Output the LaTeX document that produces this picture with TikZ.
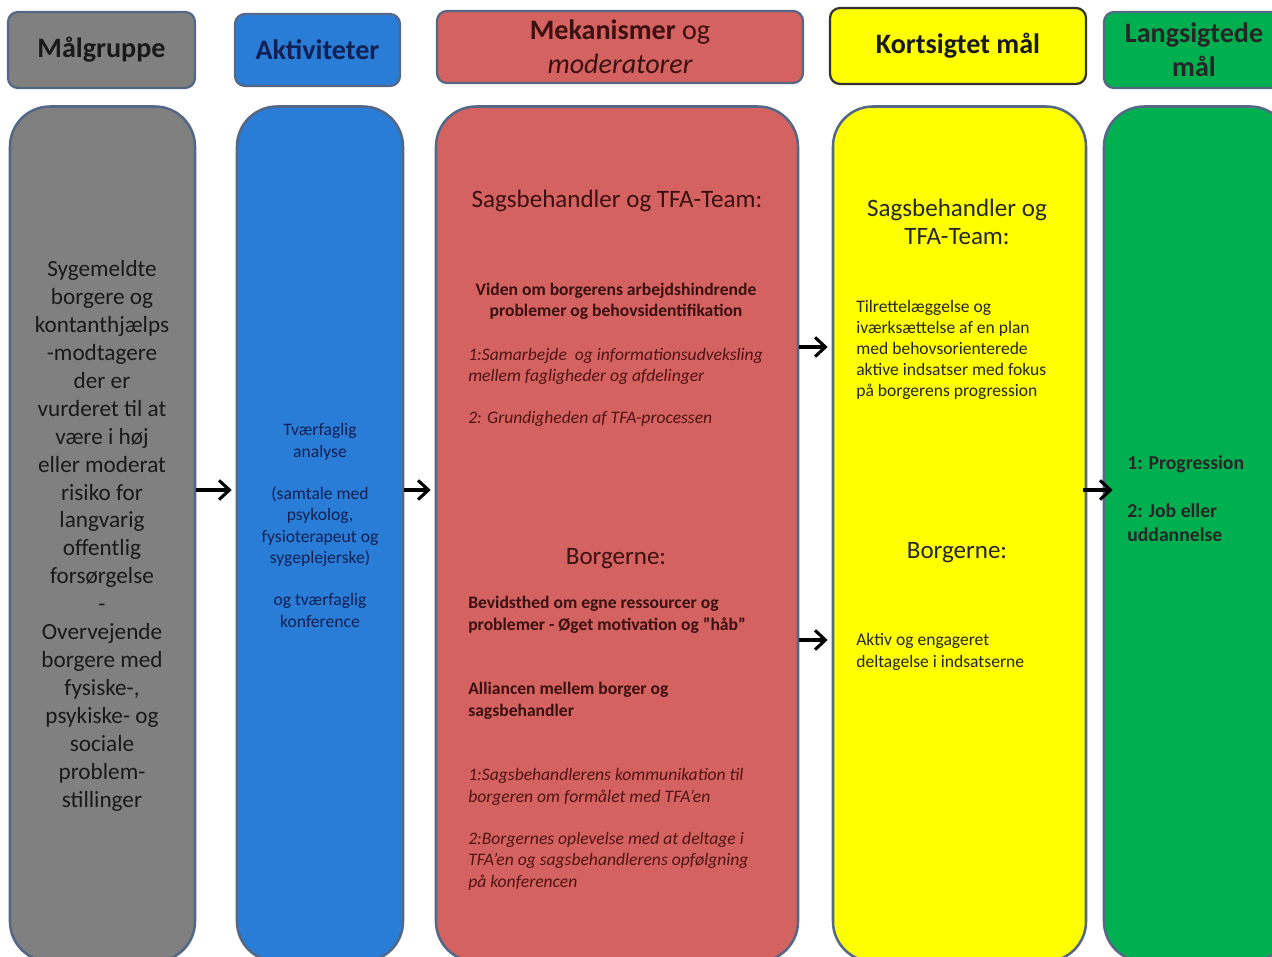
\documentclass[tikz,border=0pt]{standalone}
\usepackage{fontspec}
\setmainfont{Carlito}
\usetikzlibrary{arrows.meta}
\newcommand\pxu{0.25mm}
\newcommand\notefont{\fontsize{12.5}{15.1}\selectfont}
\definecolor{cgray}{RGB}{128,128,128}
\definecolor{cblue}{RGB}{42,125,215}
\definecolor{cred}{RGB}{212,98,96}
\definecolor{cyellow}{RGB}{255,255,0}
\definecolor{cgreen}{RGB}{0,176,80}
\definecolor{frame}{RGB}{84,104,134}
\definecolor{navy}{RGB}{16,32,84}
\definecolor{maroon}{RGB}{58,16,16}
\definecolor{brick}{RGB}{80,20,20}
\tikzstyle{head}=[draw=frame, line width=1.6pt, rounded corners=2.5mm, font=\fontsize{20}{24.2}\selectfont\bfseries, align=center]
\tikzstyle{column}=[draw=frame, line width=1.8pt, rounded corners=10mm]
\tikzstyle{edge}=[draw, line width=2.2pt, -{Straight Barb[length=2.6mm,width=4.8mm]}, shorten >=1mm]
\tikzstyle{heading}=[font=\fontsize{17.8}{20.6}\selectfont, inner sep=0pt, align=center]
\tikzstyle{body}=[font=\fontsize{16.5}{19.85}\selectfont, inner sep=0pt, align=center]
\tikzstyle{note}=[font=\notefont, inner sep=0pt, align=left]
\tikzstyle{noteb}=[note, font=\notefont\bfseries]
\tikzstyle{notei}=[note, font=\notefont\itshape, text=brick]
\tikzstyle{goal}=[note, font=\fontsize{14}{17}\selectfont\bfseries, text=black!85]

\begin{document}
\begin{tikzpicture}[x=\pxu, y=-\pxu]
	\useasboundingbox (0,0) rectangle (1272,957);

	% the five columns
	\foreach \name/\xl/\xr/\col in {grp/10/195/cgray, akt/237/403/cblue, mek/436/798/cred,
	                                kort/833/1086/cyellow, lang/1104/1290/cgreen}
	\node[column, fill=\col, minimum width={(\xr-\xl)*\pxu}, minimum height=855*\pxu] (\name) at ({(\xl+\xr)/2},534) {};

	% headers
	\node[head, fill=cgray, text=black!90, minimum width=187*\pxu, minimum height=76*\pxu] (hgrp) at (101.5,50) {Målgruppe};
	\node[head, fill=cblue, text=navy, minimum width=165*\pxu, minimum height=72*\pxu] (hakt) at (317.5,50) {Aktiviteter};
	\node[head, fill=cred, text=maroon, minimum width=366*\pxu, minimum height=72*\pxu] (hmek) at (620,47) {Mekanismer {\mdseries og}\\{\mdseries\itshape moderatorer}};
	\node[head, draw=black!80, fill=cyellow, text=black!90, minimum width=256*\pxu, minimum height=76*\pxu] (hkort) at (958,46) {Kortsigtet mål};
	\node[head, fill=cgreen, text=black!85, minimum width=180*\pxu, minimum height=76*\pxu] (hlang) at (1194,50) {Langsigtede\\mål};

	% column texts (anchored on the baseline of the last line)
	\node[body, text=black!90, anchor=base] (grpT) at (102,807) {Sygemeldte\\borgere og\\kontanthjælps\\-modtagere\\der er\\vurderet til at\\være i høj\\eller moderat\\risiko for\\langvarig\\offentlig\\forsørgelse\\-\\Overvejende\\borgere med\\fysiske-,\\psykiske- og\\sociale\\problem-\\stillinger};

	\node[note, align=center, text=navy, anchor=base] (aktT) at (320,627) {Tværfaglig\\analyse\\[15.1pt](samtale med\\psykolog,\\fysioterapeut og\\sygeplejerske)\\[15.1pt]og tværfaglig\\konference};

	\node[heading, text=maroon, anchor=base] (mekH1) at (617,208) {Sagsbehandler og TFA-Team:};
	\node[noteb, align=center, text=maroon, anchor=base] (mekV) at (616,317) {Viden om borgerens arbejdshindrende\\problemer og behovsidentifikation};
	\node[notei, anchor=base west] (mekS1) at (468,382) {1:Samarbejde\ \ og informationsudveksling\\mellem fagligheder og afdelinger};
	\node[notei, anchor=base west] (mekS2) at (468,424) {2: Grundigheden af TFA-processen};
	\node[heading, text=maroon, anchor=base] (mekH2) at (616,564) {Borgerne:};
	\node[noteb, text=maroon, anchor=base west] (mekB) at (468,630) {Bevidsthed om egne ressourcer og\\problemer - Øget motivation og \symbol{34}håb\symbol{34}};
	\node[noteb, text=maroon, anchor=base west] (mekA) at (468,716) {Alliancen\ mellem borger og\\sagsbehandler};
	\node[notei, anchor=base west] (mekK1) at (468,802) {1:Sagsbehandlerens kommunikation til\\borgeren om formålet med TFA’en};
	\node[notei, anchor=base west] (mekK2) at (468,887) {2:Borgernes oplevelse med at deltage i\\TFA’en og sagsbehandlerens opfølgning\\på konferencen};

	\node[heading, text=black!85, anchor=base] (kortH1) at (957,245) {Sagsbehandler og\\TFA-Team:};
	\node[note, text=black!85, anchor=base west] (kortP) at (856,397) {Tilrettelæggelse og\\iværksættelse af en plan\\med behovsorienterede\\aktive indsatser med fokus\\på borgerens progression};
	\node[heading, text=black!85, anchor=base] (kortH2) at (957,558) {Borgerne:};
	\node[note, text=black!85, anchor=base west] (kortD) at (856,667) {Aktiv og engageret\\deltagelse i indsatserne};

	\node[goal, anchor=base west] (langP) at (1127,470) {1: Progression};
	\node[goal, anchor=base west] (langJ) at (1127,541) {2: Job eller\\uddannelse};

	% arrows between the columns
	\coordinate (r1) at (0,490);
	\coordinate (r2) at (0,347);
	\coordinate (r3) at (0,640);
	\foreach \src/\dst/\lvl in {grp/akt/r1, akt/mek/r1, mek/kort/r2, mek/kort/r3}
	\path[edge] (\src.east |- \lvl) -- (\dst.west |- \lvl);
	\path[edge, shorten >=-2.5mm, shorten <=-1mm] (kort.east |- r1) -- (lang.west |- r1);
\end{tikzpicture}
\end{document}
